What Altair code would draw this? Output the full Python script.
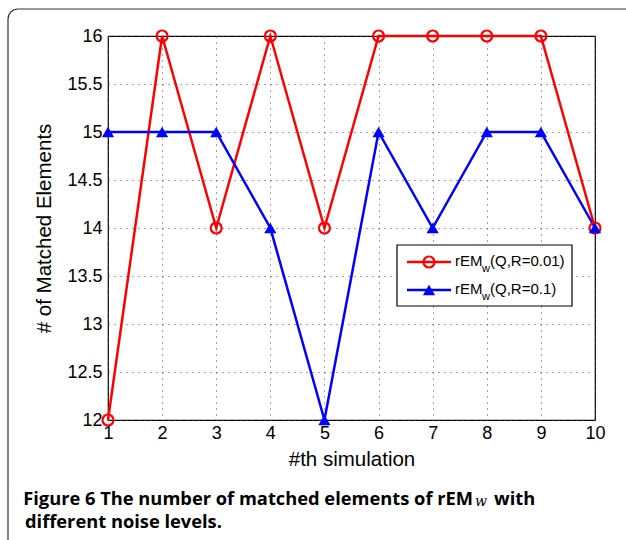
import altair as alt
import pandas as pd

sims = [1, 2, 3, 4, 5, 6, 7, 8, 9, 10]
red_vals = [12, 16, 14, 16, 14, 16, 16, 16, 16, 14]
blue_vals = [15, 15, 15, 14, 12, 15, 14, 15, 15, 14]
y_ticks = [12, 12.5, 13, 13.5, 14, 14.5, 15, 15.5, 16]

red_df = pd.DataFrame({"sim": sims, "val": red_vals})
blue_df = pd.DataFrame({"sim": sims, "val": blue_vals})
one = pd.DataFrame({"d": [0]})

FONT = "Liberation Sans"
CAP = "Open Sans"

xs = alt.Scale(domain=[1, 10], nice=False, zero=False)
ys = alt.Scale(domain=[12, 16], nice=False, zero=False)

x_enc = alt.X("sim:Q", scale=xs, title="#th simulation",
              axis=alt.Axis(values=sims, format="d", labelPadding=4, titlePadding=7))
y_enc = alt.Y("val:Q", scale=ys, title="# of Matched Elements",
              axis=alt.Axis(values=y_ticks, format="~g", labelPadding=6, titlePadding=12))

red_line = alt.Chart(red_df).mark_line(color="#ff0000", strokeWidth=2.5).encode(x=x_enc, y=y_enc)
red_pts = alt.Chart(red_df).mark_point(shape="circle", filled=False, color="#ff0000",
                                       size=120, strokeWidth=2.2, opacity=1).encode(x=x_enc, y=y_enc)
blue_line = alt.Chart(blue_df).mark_line(color="#0000ff", strokeWidth=2.5).encode(x=x_enc, y=y_enc)
blue_pts = alt.Chart(blue_df).mark_point(shape="triangle-up", filled=True, color="#0000ff",
                                         size=150, opacity=1).encode(x=x_enc, y=y_enc)

base1 = alt.Chart(one)

# outer frame
frame = base1.mark_rect(fill=None, stroke="#333", strokeWidth=1.2, cornerRadius=10).encode(
    x=alt.value(-100), x2=alt.value(700), y=alt.value(-27), y2=alt.value(700))

# legend box
leg_box = base1.mark_rect(fill="white", stroke="black", strokeWidth=1.2).encode(
    x=alt.value(289), x2=alt.value(464), y=alt.value(209), y2=alt.value(270))
leg_r_line = base1.mark_rule(color="#ff0000", strokeWidth=2.5).encode(
    x=alt.value(299), x2=alt.value(343), y=alt.value(226))
leg_b_line = base1.mark_rule(color="#0000ff", strokeWidth=2.5).encode(
    x=alt.value(299), x2=alt.value(343), y=alt.value(254))
leg_r_pt = base1.mark_point(shape="circle", filled=False, color="#ff0000", size=120,
                            strokeWidth=2.2, opacity=1).encode(x=alt.value(321), y=alt.value(226))
leg_b_pt = base1.mark_point(shape="triangle-up", filled=True, color="#0000ff", size=150,
                            opacity=1).encode(x=alt.value(321), y=alt.value(254))


def txt(s, x, y, size=14, font=FONT, weight="normal", style="normal", align="left"):
    return base1.mark_text(text=s, font=font, fontSize=size, fontWeight=weight, fontStyle=style,
                           align=align, baseline="alphabetic", color="black").encode(
        x=alt.value(x), y=alt.value(y))


leg_texts = [
    txt("rEM", 347, 230, size=15), txt("w", 374, 236, size=11), txt("(Q,R=0.01)", 382, 230, size=15),
    txt("rEM", 347, 258, size=15), txt("w", 374, 264, size=11), txt("(Q,R=0.1)", 382, 258, size=15),
]

cap_texts = [
    txt("Figure 6 The number of matched elements of rEM", 365, 469, size=18.3, font=CAP,
        weight="bold", align="right"),
    txt("w", 367, 470, size=14, font="DejaVu Serif", style="italic"),
    txt("with", 386, 469, size=18.3, font=CAP, weight="bold"),
    txt("different noise levels.", -83, 492, size=18.3, font=CAP, weight="bold"),
]

chart = alt.layer(
    frame, red_line, blue_line, red_pts, blue_pts,
    leg_box, leg_r_line, leg_b_line, leg_r_pt, leg_b_pt,
    *leg_texts, *cap_texts
).properties(
    width=487, height=384,
    autosize=alt.AutoSizeParams(type="none"),
    padding={"left": 108, "top": 36, "right": 31, "bottom": 120},
    background="white",
).configure_view(stroke="black", strokeWidth=1.2).configure_axis(
    grid=True, ticks=False, domain=False,
    labelFont=FONT, labelFontSize=18, labelColor="black", labelFlush=False,
    titleFont=FONT, titleFontSize=20.5, titleFontWeight="normal", titleColor="black",
    gridDash=[1, 5], gridColor="#444", gridWidth=1,
)

chart.save("out.html", embed_options={"renderer": "svg", "actions": False})
